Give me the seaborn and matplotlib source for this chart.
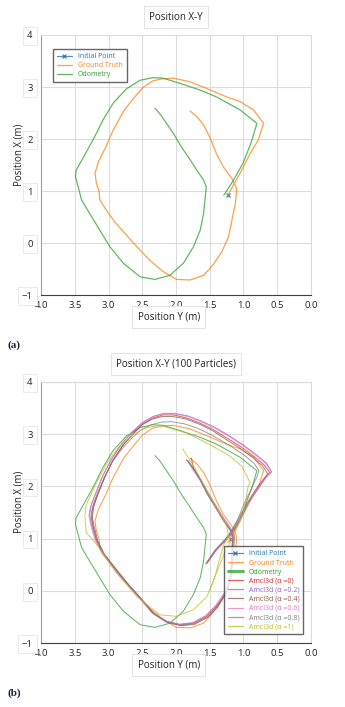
import numpy as np
import pandas as pd
import matplotlib
matplotlib.use("Agg")
import matplotlib.pyplot as plt
import seaborn as sb

# trajectories: y = Position Y (horizontal axis), x = Position X (vertical axis)
gt_y = [1.23,1.05,0.90,0.78,0.70,0.85,1.05,1.25,1.54,1.79,2.04,2.19,2.34,2.49,2.63,2.78,2.93,3.05,3.15,3.20,
        3.18,3.14,3.13,3.03,2.91,2.76,2.58,2.39,2.19,1.99,1.79,1.59,1.45,1.32,1.22,1.17,1.12,1.10,1.11,1.17,
        1.30,1.40,1.50,1.59,1.69,1.79]
gt_x = [0.92,1.34,1.72,1.98,2.30,2.56,2.72,2.81,2.97,3.10,3.17,3.16,3.12,2.99,2.78,2.53,2.17,1.82,1.56,1.34,
        1.15,0.99,0.83,0.63,0.41,0.19,-0.07,-0.33,-0.55,-0.70,-0.71,-0.62,-0.42,-0.17,0.12,0.44,0.76,0.99,1.08,1.24,
        1.47,1.72,2.04,2.27,2.43,2.54]

odom_y = [1.29,1.15,1.00,0.88,0.80,1.05,1.40,1.64,1.94,2.19,2.34,2.53,2.73,2.93,3.08,3.23,3.38,3.48,3.49,3.45,
          3.40,3.28,3.13,2.98,2.78,2.53,2.31,2.09,1.89,1.74,1.64,1.59,1.57,1.55,1.59,1.69,1.79,1.92,2.04,2.14,
          2.24,2.31]
odom_x = [0.92,1.20,1.55,1.95,2.30,2.56,2.81,2.94,3.07,3.17,3.18,3.13,2.97,2.69,2.37,1.98,1.63,1.40,1.28,1.08,
          0.83,0.57,0.25,-0.07,-0.39,-0.65,-0.70,-0.62,-0.39,-0.07,0.25,0.57,0.83,1.08,1.21,1.40,1.60,1.85,2.11,2.30,
          2.49,2.59]

a00_y = [1.54,1.40,1.25,1.15,1.05,0.93,0.80,0.68,0.61,0.70,0.85,1.05,1.25,1.45,1.64,1.84,2.04,2.19,2.34,2.49,
         2.63,2.78,2.93,3.05,3.15,3.23,3.25,3.23,3.18,3.08,2.93,2.73,2.53,2.34,2.14,1.94,1.74,1.54,1.40,1.25,
         1.19,1.17,1.16,1.15,1.19,1.30,1.42,1.54,1.64,1.74,1.77]
a00_x = [0.53,0.79,0.98,1.14,1.36,1.68,1.94,2.16,2.27,2.42,2.58,2.77,2.93,3.09,3.21,3.31,3.37,3.37,3.31,3.20,
         3.02,2.80,2.51,2.19,1.87,1.62,1.43,1.24,0.98,0.72,0.47,0.15,-0.14,-0.43,-0.59,-0.65,-0.62,-0.49,-0.30,-0.04,
         0.21,0.53,0.85,1.04,1.17,1.36,1.62,1.87,2.13,2.35,2.54]

a02_y = [1.56,1.42,1.27,1.16,1.05,0.92,0.78,0.66,0.58,0.66,0.82,1.02,1.22,1.42,1.62,1.82,2.02,2.18,2.34,2.50,
         2.65,2.80,2.95,3.08,3.18,3.26,3.28,3.25,3.19,3.09,2.94,2.74,2.54,2.35,2.15,1.95,1.75,1.56,1.41,1.27,
         1.19,1.16,1.14,1.13,1.18,1.28,1.40,1.52,1.63,1.74,1.85]
a02_x = [0.52,0.78,0.98,1.14,1.37,1.70,1.96,2.18,2.28,2.45,2.62,2.81,2.98,3.13,3.25,3.35,3.40,3.40,3.34,3.22,
         3.04,2.82,2.53,2.21,1.89,1.62,1.45,1.25,0.99,0.73,0.48,0.17,-0.12,-0.41,-0.58,-0.64,-0.61,-0.48,-0.29,-0.03,
         0.22,0.54,0.86,1.05,1.18,1.37,1.62,1.87,2.12,2.33,2.52]

a04_y = [1.53,1.39,1.25,1.15,1.06,0.95,0.83,0.71,0.64,0.72,0.87,1.07,1.27,1.46,1.65,1.85,2.05,2.20,2.35,2.50,
         2.64,2.79,2.94,3.06,3.16,3.22,3.24,3.21,3.16,3.06,2.91,2.71,2.51,2.32,2.12,1.92,1.72,1.53,1.39,1.26,
         1.20,1.18,1.17,1.16,1.19,1.29,1.41,1.53,1.63,1.73,1.82]
a04_x = [0.55,0.80,0.99,1.15,1.36,1.67,1.92,2.13,2.24,2.40,2.56,2.75,2.91,3.07,3.19,3.29,3.34,3.34,3.29,3.18,
         3.00,2.78,2.49,2.17,1.85,1.60,1.41,1.22,0.96,0.70,0.45,0.13,-0.16,-0.45,-0.61,-0.67,-0.64,-0.51,-0.32,-0.06,
         0.20,0.52,0.84,1.03,1.16,1.35,1.61,1.86,2.11,2.33,2.49]

a06_y = [1.55,1.41,1.26,1.16,1.05,0.92,0.79,0.67,0.59,0.67,0.83,1.03,1.23,1.43,1.63,1.83,2.03,2.19,2.35,2.51,
         2.66,2.81,2.96,3.09,3.19,3.27,3.29,3.26,3.20,3.10,2.95,2.75,2.55,2.36,2.16,1.96,1.76,1.57,1.42,1.28,
         1.20,1.17,1.15,1.14,1.19,1.29,1.41,1.53,1.64,1.75,1.83]
a06_x = [0.51,0.77,0.97,1.13,1.36,1.69,1.95,2.17,2.28,2.44,2.61,2.80,2.97,3.12,3.24,3.34,3.39,3.39,3.33,3.21,
         3.03,2.81,2.52,2.20,1.88,1.60,1.44,1.24,0.98,0.72,0.47,0.16,-0.13,-0.42,-0.59,-0.65,-0.62,-0.49,-0.30,-0.04,
         0.21,0.53,0.85,1.04,1.17,1.36,1.61,1.86,2.11,2.32,2.50]

a08_y = [1.54,1.41,1.27,1.17,1.08,0.98,0.88,0.80,0.77,0.84,0.97,1.15,1.33,1.51,1.69,1.88,2.07,2.22,2.37,2.52,
         2.66,2.80,2.95,3.07,3.17,3.24,3.26,3.23,3.17,3.07,2.92,2.72,2.52,2.33,2.13,1.93,1.73,1.53,1.38,1.26,
         1.20,1.18,1.16,1.16,1.20,1.30,1.42,1.54,1.64,1.74,1.83]
a08_x = [0.53,0.79,0.99,1.16,1.38,1.70,1.96,2.18,2.30,2.44,2.58,2.74,2.88,3.01,3.12,3.20,3.24,3.23,3.18,3.08,
         2.92,2.72,2.46,2.15,1.85,1.60,1.42,1.23,0.97,0.71,0.46,0.14,-0.15,-0.44,-0.60,-0.66,-0.63,-0.50,-0.31,-0.05,
         0.20,0.52,0.84,1.03,1.16,1.35,1.61,1.86,2.12,2.34,2.50]

a10_y = [1.50,1.42,1.30,1.15,1.00,0.93,0.90,1.02,1.20,1.54,1.84,2.24,2.45,2.63,2.85,3.00,3.18,3.33,3.35,3.33,
         3.23,3.08,2.88,2.58,2.24,1.99,1.74,1.54,1.42,1.37,1.30,1.22,1.25,1.38,1.55,1.72,1.90]
a10_x = [0.00,0.28,0.66,1.04,1.49,2.00,2.07,2.38,2.58,2.83,3.02,3.17,3.12,3.00,2.75,2.50,2.07,1.65,1.43,1.11,
         0.98,0.72,0.34,-0.11,-0.46,-0.49,-0.36,-0.11,0.28,0.53,0.85,1.05,1.25,1.55,1.95,2.35,2.72]

init_a = (1.23, 0.92)
init_b = (1.19, 1.00)

amcl_names = ["Amcl3d (α =0)", "Amcl3d (α =0.2)", "Amcl3d (α =0.4)", "Amcl3d (α =0.6)",
              "Amcl3d (α =0.8)", "Amcl3d (α =1)"]
amcl_data = [(a00_y, a00_x), (a02_y, a02_x), (a04_y, a04_x), (a06_y, a06_x), (a08_y, a08_x), (a10_y, a10_x)]

tab = ["#1f77b4", "#ff7f0e", "#2ca02c", "#d62728", "#9467bd", "#8c564b", "#e377c2", "#7f7f7f", "#bcbd22"]

sb.set_style("white")
plt.rcParams["font.family"] = ["Open Sans", "DejaVu Sans"]

fig = plt.figure(figsize=(3.45, 7.07), dpi=100)
ax_a = fig.add_axes([0.119, 0.5827, 0.782, 0.3678])
ax_b = fig.add_axes([0.119, 0.0905, 0.782, 0.3692])

box = dict(boxstyle="square,pad=0.55", fc="white", ec="#e3e3e3", lw=0.7)


def draw_line(ax, ys, xs, color, label, lw=0.9):
    df = pd.DataFrame({"y": ys, "x": xs})
    sb.lineplot(data=df, x="y", y="x", sort=False, estimator=None, color=color,
                alpha=0.75, lw=lw, label=label, ax=ax)


def style(ax, title):
    ax.set_xlim(4, 0)
    ax.set_ylim(-1, 4)
    ax.set_xticks(np.arange(0, 4.01, 0.5))
    ax.set_xticklabels(["%.1f" % v for v in np.arange(0, 4.01, 0.5)])
    ax.set_yticks(range(-1, 5))
    ax.grid(True, color="#dcdcdc", lw=0.8)
    ax.set_axisbelow(True)
    for s in ["top", "right"]:
        ax.spines[s].set_color("#dcdcdc")
    ax.spines["left"].set_color("#a0a0a0")
    ax.spines["bottom"].set_color("#404040")
    ax.tick_params(axis="both", labelsize=6.8, colors="#222222", length=0)
    ax.tick_params(axis="y", pad=6)
    ax.tick_params(axis="x", pad=4)
    for lbl in ax.get_yticklabels():
        lbl.set_bbox(dict(boxstyle="square,pad=0.45", fc="white", ec="#e6e6e6", lw=0.6))
    ax.set_xlabel("")
    ax.set_ylabel("")
    ax.text(0.5, 1.068, title, transform=ax.transAxes, ha="center", va="center",
            fontsize=7, color="#222222", bbox=box)
    ax.text(0.474, -0.085, "Position Y (m)", transform=ax.transAxes, ha="center", va="center",
            fontsize=7, color="#222222", bbox=box)
    ax.text(-0.082, 0.54, "Position X (m)", transform=ax.transAxes, ha="center", va="center",
            rotation=90, fontsize=7, color="#222222")


# panel (a)
ax_a.plot([init_a[0]], [init_a[1]], "-x", color=tab[0], ms=2.5, lw=0.9, alpha=0.8, label="Initial Point")
draw_line(ax_a, gt_y, gt_x, tab[1], "Ground Truth")
draw_line(ax_a, odom_y, odom_x, tab[2], "Odometry")
style(ax_a, "Position X-Y")
leg = ax_a.legend(loc="upper left", bbox_to_anchor=(0.03, 0.96), fontsize=5, labelcolor="linecolor",
                  frameon=True, fancybox=False, edgecolor="#404040", handlelength=2.2, borderpad=0.6,
                  labelspacing=0.3)
leg.get_frame().set_linewidth(1.0)

# panel (b)
ax_b.plot([init_b[0]], [init_b[1]], "-x", color=tab[0], ms=2.5, lw=0.9, alpha=0.8, label="Initial Point")
draw_line(ax_b, gt_y, gt_x, tab[1], "Ground Truth", lw=0.75)
draw_line(ax_b, odom_y, odom_x, tab[2], "Odometry", lw=0.75)
for i, (name, (ys, xs)) in enumerate(zip(amcl_names, amcl_data)):
    draw_line(ax_b, ys, xs, tab[3 + i], name, lw=0.7)
style(ax_b, "Position X-Y (100 Particles)")
leg = ax_b.legend(loc="lower right", bbox_to_anchor=(0.985, 0.02), fontsize=5, labelcolor="linecolor",
                  frameon=True, fancybox=False, edgecolor="#404040", handlelength=2.2, borderpad=0.6,
                  labelspacing=0.3)
leg.get_frame().set_linewidth(1.0)
for ln in leg.get_lines():
    ln.set_linewidth(0.9)
leg.get_lines()[2].set_linewidth(2.2)

fig.text(8 / 345, 1 - 345 / 707, "(a)", fontsize=8, fontweight="bold", family="Liberation Serif",
         color="#1c2340", va="center")
fig.text(8 / 345, 1 - 693 / 707, "(b)", fontsize=8, fontweight="bold", family="Liberation Serif",
         color="#1c2340", va="center")

fig.savefig("out.png", dpi=100)
